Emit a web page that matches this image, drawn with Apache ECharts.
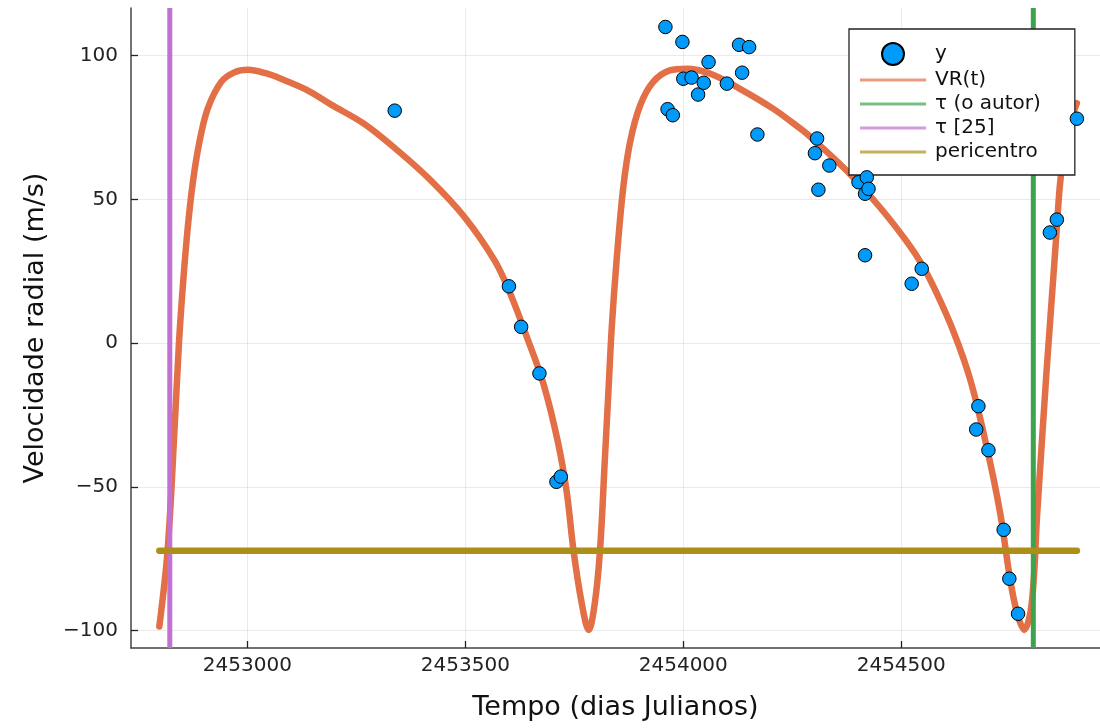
<!DOCTYPE html>
<html>
<head>
<meta charset="utf-8">
<script src="https://cdn.jsdelivr.net/npm/echarts@6/dist/echarts.min.js"></script>
<style>html,body{margin:0;padding:0;background:#fff}#c{width:1100px;height:728px}</style>
</head>
<body>
<div id="c"></div>
<script>
// ---- data ----
const obsTime = [2453338, 2453600, 2453628, 2453670, 2453709, 2453719, 2453959, 2453964, 2453976, 2453998,
  2454000, 2454019, 2454034, 2454047, 2454058, 2454100, 2454128, 2454135, 2454151, 2454170,
  2454302, 2454307, 2454310, 2454335, 2454402, 2454417, 2454417, 2454421, 2454425, 2454524,
  2454547, 2454672, 2454677, 2454700, 2454735, 2454748, 2454768, 2454841, 2454857, 2454903];
const obsVR = [80.9, 19.8, 5.7, -10.5, -48.2, -46.4, 110, 81.4, 79.3, 104.8,
  92, 92.4, 86.5, 90.6, 97.8, 90.3, 103.8, 94.1, 103, 72.6,
  66.1, 71.2, 53.4, 61.8, 56, 52, 30.6, 57.7, 53.7, 20.7,
  25.9, -30, -21.9, -37.2, -64.9, -81.9, -94.1, 38.5, 43, 78.1];

const fitTime = [2452798, 2452817, 2452833, 2452843, 2452852, 2452863, 2452875, 2452890, 2452909, 2452940,
  2452970, 2453001, 2453040, 2453077, 2453135, 2453192, 2453268, 2453345, 2453421, 2453498,
  2453567, 2453603, 2453641, 2453679, 2453713, 2453733, 2453748, 2453767, 2453783, 2453797,
  2453809, 2453820, 2453828, 2453836, 2453847, 2453862, 2453878, 2453901, 2453931, 2453969,
  2454008, 2454061, 2454130, 2454206, 2454268, 2454290, 2454375, 2454451, 2454512, 2454547,
  2454581, 2454620, 2454658, 2454696, 2454727, 2454750, 2454766, 2454782, 2454799, 2454812,
  2454832, 2454838, 2454847, 2454856, 2454864, 2454874, 2454888, 2454903];
const fitVR = [-98.5, -71.9, -29.5, 0, 20, 39.9, 56.1, 70, 81.6, 90.9,
  94.2, 95.1, 94, 92, 88.2, 83, 76.3, 67, 56.6, 43.9,
  28.8, 17.3, 2.2, -14, -34.8, -52.2, -71.9, -90.4, -99.7, -90.4,
  -71.9, -40.6, -17.5, 5.7, 28.8, 53.8, 70, 82.7, 90.9, 94.9,
  95.5, 93.8, 88.5, 81.6, 74.7, 72, 60, 47.3, 35.5, 27.5,
  17.5, 4, -12.5, -36, -59.1, -82.3, -94, -99.7, -91, -59.1,
  -12.8, 0, 19, 38, 55, 67, 77, 83.5];

const tauAutor = 2454803;
const tau25 = 2452822;
const pericentroVR = -72.2;
const pericentroSpan = [2452798, 2454903];

const xTicks = [2453000, 2453500, 2454000, 2454500];
const yTicks = [-100, -50, 0, 50, 100];
const xRange = [2452733, 2454956];
const yRange = [-106, 116.6];

const names = ['y', 'VR(t)', 'τ (o autor)', 'τ [25]', 'pericentro'];
const colors = ['#009AFA', '#E26F46', '#3DA44D', '#C271D2', '#AC8E18'];

// ---- build ----
const scatterData = obsTime.map((t, i) => [t, obsVR[i]]);
const fitData = fitTime.map((t, i) => [t, fitVR[i]]);
const font = 'DejaVu Sans';
const lineIcon = 'path://M0 0H66V3H0Z';

const chart = echarts.init(document.getElementById('c'));
chart.setOption({
  animation: false,
  backgroundColor: '#fff',
  grid: { left: 131, right: 0, top: 8, bottom: 80 },
  xAxis: {
    type: 'value', min: xRange[0], max: xRange[1],
    name: 'Tempo (dias Julianos)', nameLocation: 'middle', nameGap: 46,
    nameTextStyle: { fontFamily: font, fontSize: 27, color: '#111' },
    axisLine: { show: true, onZero: false, lineStyle: { color: '#444', width: 1.5 } },
    axisTick: { show: true, inside: true, length: 7, customValues: xTicks, lineStyle: { color: '#222', width: 1.3 } },
    axisLabel: { customValues: xTicks, margin: 8, fontFamily: font, fontSize: 20, color: '#222', formatter: v => String(v) },
    splitLine: { show: true, lineStyle: { color: 'rgba(0,0,0,0.08)', width: 1 } }
  },
  yAxis: {
    type: 'value', min: yRange[0], max: yRange[1],
    name: 'Velocidade radial (m/s)', nameLocation: 'middle', nameGap: 82,
    nameTextStyle: { fontFamily: font, fontSize: 27, color: '#111' },
    axisLine: { show: true, onZero: false, lineStyle: { color: '#444', width: 1.5 } },
    axisTick: { show: true, inside: true, length: 7, customValues: yTicks, lineStyle: { color: '#222', width: 1.3 } },
    axisLabel: { customValues: yTicks, margin: 13, fontFamily: font, fontSize: 20, color: '#222',
      formatter: v => (v < 0 ? '\u2212' + Math.abs(v) : String(v)) },
    splitLine: { show: true, lineStyle: { color: 'rgba(0,0,0,0.08)', width: 1 } }
  },
  legend: {
    orient: 'vertical', left: 849, top: 29,
    padding: [13, 34, 13, 11],
    itemWidth: 66, itemHeight: 22, itemGap: 4,
    backgroundColor: '#fff', borderColor: '#222', borderWidth: 1.3, borderRadius: 0,
    textStyle: { fontFamily: font, fontSize: 20, color: '#111', padding: [0, 0, 0, 4] },
    data: [
      { name: names[0] },
      { name: names[1], icon: lineIcon, itemStyle: { opacity: 0.7 } },
      { name: names[2], icon: lineIcon, itemStyle: { opacity: 0.7 } },
      { name: names[3], icon: lineIcon, itemStyle: { opacity: 0.7 } },
      { name: names[4], icon: lineIcon, itemStyle: { opacity: 0.7 } }
    ]
  },
  series: [
    {
      name: names[0], type: 'scatter', data: scatterData, z: 5,
      symbol: 'circle', symbolSize: 13.5,
      itemStyle: { color: colors[0], borderColor: '#000', borderWidth: 1, opacity: 1 }
    },
    {
      name: names[1], type: 'line', data: fitData, z: 3, smooth: 0.35,
      symbol: 'none', showSymbol: false, color: colors[1],
      lineStyle: { color: colors[1], width: 6.5, cap: 'round', join: 'round' }
    },
    {
      name: names[2], type: 'line', data: [[tauAutor, yRange[0]], [tauAutor, yRange[1]]], z: 3,
      symbol: 'none', showSymbol: false, color: colors[2],
      lineStyle: { color: colors[2], width: 5 }
    },
    {
      name: names[3], type: 'line', data: [[tau25, yRange[0]], [tau25, yRange[1]]], z: 3,
      symbol: 'none', showSymbol: false, color: colors[3],
      lineStyle: { color: colors[3], width: 5 }
    },
    {
      name: names[4], type: 'line', data: pericentroSpan.map(t => [t, pericentroVR]), z: 3,
      symbol: 'none', showSymbol: false, color: colors[4],
      lineStyle: { color: colors[4], width: 6.5, cap: 'round' }
    }
  ]
});
</script>
</body>
</html>
